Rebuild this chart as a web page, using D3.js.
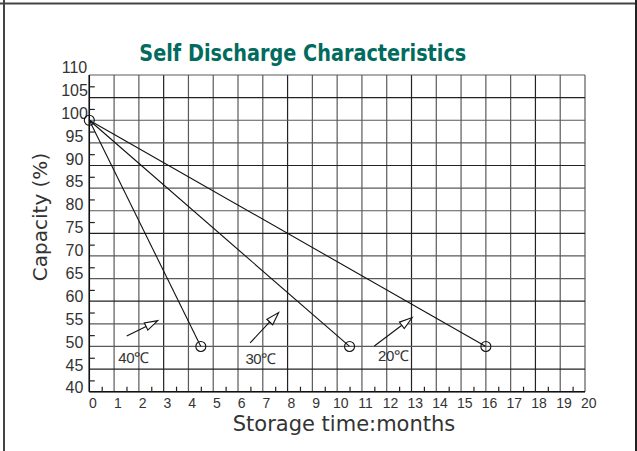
<!DOCTYPE html>
<html>
<head>
<meta charset="utf-8">
<script src="https://cdn.jsdelivr.net/npm/d3@7"></script>
<style>
    body { margin: 0; background: #fff; }
    svg { display: block; }
</style>
</head>
<body>
<svg id="chart" width="637" height="451"></svg>
<script>
// chart data
const months = [0, 1, 2, 3, 4, 5, 6, 7, 8, 9, 10, 11, 12, 13, 14, 15, 16, 17, 18, 19, 20];
const capacityTicks = [40, 45, 50, 55, 60, 65, 70, 75, 80, 85, 90, 95, 100, 105, 110];
const temps = ["40℃", "30℃", "20℃"];
const startPoint = [0, 100];
const endMonths = [4.5, 10.5, 16];
const endCapacity = [50, 50, 50];
// arrow annotations [month, capacity] and label anchors
const arrowFrom = [[1.51, 52.3], [6.49, 50.8], [11.5, 50.1]];
const arrowTo = [[2.76, 55.7], [7.64, 57.5], [13.03, 56.4]];
const labelAt = [[1.78, 47.5], [6.91, 47.4], [12.26, 47.9]];

const svg = d3.select("#chart");

const plotLeft = 89.3, plotRight = 585, plotTop = 75, plotBottom = 391.7;

const x = d3.scaleLinear().domain([0, 20]).range([plotLeft, plotRight]);
const y = d3.scaleLinear().domain([40, 110]).range([plotBottom, plotTop]);
// the printed tick labels sit a little off the grid in the original
const yLab = d3.scaleLinear().domain([40, 110]).range([387.7, 67.3]);

// outer frame
svg.append("line").attr("x1", 0).attr("x2", 637).attr("y1", 3.5).attr("y2", 3.5)
    .attr("stroke", "#444").attr("stroke-width", 2);
svg.append("line").attr("x1", 4).attr("x2", 4).attr("y1", 0).attr("y2", 451)
    .attr("stroke", "#444").attr("stroke-width", 2);
svg.append("line").attr("x1", 636).attr("x2", 636).attr("y1", 0).attr("y2", 451)
    .attr("stroke", "#222").attr("stroke-width", 2);

// title
svg.append("text")
    .attr("x", 139.3)
    .attr("y", 60.5)
    .attr("textLength", 327)
    .attr("lengthAdjust", "spacingAndGlyphs")
    .style("font-family", "'DejaVu Sans', sans-serif")
    .style("font-weight", "bold")
    .style("font-size", "23px")
    .style("fill", "#006b5e")
    .text("Self Discharge Characteristics");

// grid
const grid = svg.append("g");
grid.selectAll("line.v")
    .data(months)
    .enter()
    .append("line")
    .attr("class", "v")
    .attr("x1", d => x(d)).attr("x2", d => x(d))
    .attr("y1", plotTop).attr("y2", plotBottom)
    .attr("stroke", (d, i) => i % 5 === 3 ? "#222" : "#5a5a5a")
    .attr("stroke-width", 1.2);

grid.selectAll("line.h")
    .data(capacityTicks)
    .enter()
    .append("line")
    .attr("class", "h")
    .attr("x1", plotLeft).attr("x2", plotRight)
    .attr("y1", d => y(d)).attr("y2", d => y(d))
    .attr("stroke", (d, i) => i % 3 === 1 ? "#222" : "#5a5a5a")
    .attr("stroke-width", 1.2);

// axes frame lines
svg.append("line").attr("x1", plotLeft).attr("x2", plotLeft).attr("y1", plotTop).attr("y2", plotBottom)
    .attr("stroke", "#111").attr("stroke-width", 1.5);
svg.append("line").attr("x1", plotLeft).attr("x2", plotRight).attr("y1", plotBottom).attr("y2", plotBottom)
    .attr("stroke", "#111").attr("stroke-width", 1.5);

// minor ticks at half steps, pointing inward
svg.append("g")
    .attr("transform", `translate(0,${plotBottom})`)
    .call(d3.axisTop(x).tickValues(months.slice(0, -1).map(d => d + 0.5)).tickSize(5).tickFormat(""))
    .call(g => g.select(".domain").remove())
    .call(g => g.selectAll("line").attr("stroke", "#222").attr("stroke-width", 1.2));

svg.append("g")
    .attr("transform", `translate(${plotLeft},0)`)
    .call(d3.axisRight(y).tickValues(capacityTicks.slice(0, -1).map(d => d + 2.5)).tickSize(5.5).tickFormat(""))
    .call(g => g.select(".domain").remove())
    .call(g => g.selectAll("line").attr("stroke", "#222").attr("stroke-width", 1.2));

// tick labels
svg.append("g")
    .selectAll("text")
    .data(capacityTicks)
    .enter()
    .append("text")
    .attr("x", 74.5)
    .attr("y", d => yLab(d))
    .attr("dy", "0.36em")
    .attr("text-anchor", "middle")
    .style("font-family", "'Liberation Sans', Arial, sans-serif")
    .style("font-size", "16px")
    .style("fill", "#333")
    .text(d => d);

svg.append("g")
    .selectAll("text")
    .data(months)
    .enter()
    .append("text")
    .attr("x", d => x(d) + 3.7)
    .attr("y", 402.5)
    .attr("dy", "0.36em")
    .attr("text-anchor", "middle")
    .style("font-family", "'Liberation Sans', Arial, sans-serif")
    .style("font-size", "14px")
    .style("fill", "#333")
    .text(d => d);

// axis titles
svg.append("text")
    .attr("transform", "translate(46.5,217) rotate(-90)")
    .attr("text-anchor", "middle")
    .style("font-family", "'DejaVu Sans', sans-serif")
    .style("font-size", "20px")
    .style("fill", "#333")
    .text("Capacity (%)");

svg.append("text")
    .attr("x", 344)
    .attr("y", 430.5)
    .attr("text-anchor", "middle")
    .style("font-family", "'DejaVu Sans', sans-serif")
    .style("font-size", "21px")
    .style("fill", "#333")
    .text("Storage time:months");

// discharge lines
const lines = svg.append("g");
endMonths.forEach((m, i) => {
    lines.append("line")
        .attr("x1", x(startPoint[0])).attr("y1", y(startPoint[1]))
        .attr("x2", x(m)).attr("y2", y(endCapacity[i]))
        .attr("stroke", "#111")
        .attr("stroke-width", 1.1);
});

lines.append("circle")
    .attr("cx", x(startPoint[0])).attr("cy", y(startPoint[1]))
    .attr("r", 5).attr("fill", "none").attr("stroke", "#111").attr("stroke-width", 1.1);

lines.selectAll("circle.end")
    .data(endMonths)
    .enter()
    .append("circle")
    .attr("class", "end")
    .attr("cx", d => x(d))
    .attr("cy", (d, i) => y(endCapacity[i]))
    .attr("r", 5)
    .attr("fill", "none")
    .attr("stroke", "#111")
    .attr("stroke-width", 1.1);

// arrows with open heads
const ann = svg.append("g");
arrowFrom.forEach((f, i) => {
    const x1 = x(f[0]), y1 = y(f[1]);
    const x2 = x(arrowTo[i][0]), y2 = y(arrowTo[i][1]);
    const ang = Math.atan2(y2 - y1, x2 - x1);
    const hl = 13, hw = 4;
    const bx = x2 - hl * Math.cos(ang), by = y2 - hl * Math.sin(ang);
    const px = -Math.sin(ang) * hw, py = Math.cos(ang) * hw;

    ann.append("line")
        .attr("x1", x1).attr("y1", y1)
        .attr("x2", bx).attr("y2", by)
        .attr("stroke", "#111").attr("stroke-width", 1.1);

    ann.append("path")
        .attr("d", `M${x2},${y2}L${bx + px},${by + py}L${bx - px},${by - py}Z`)
        .attr("fill", "#fff")
        .attr("stroke", "#111")
        .attr("stroke-width", 1.1);

    ann.append("text")
        .attr("x", x(labelAt[i][0]))
        .attr("y", y(labelAt[i][1]))
        .attr("dy", "0.36em")
        .attr("text-anchor", "middle")
        .attr("letter-spacing", "-0.5px")
        .style("font-family", "'Liberation Sans', Arial, sans-serif")
        .style("font-size", "15px")
        .style("fill", "#333")
        .text(temps[i]);
});
</script>
</body>
</html>
